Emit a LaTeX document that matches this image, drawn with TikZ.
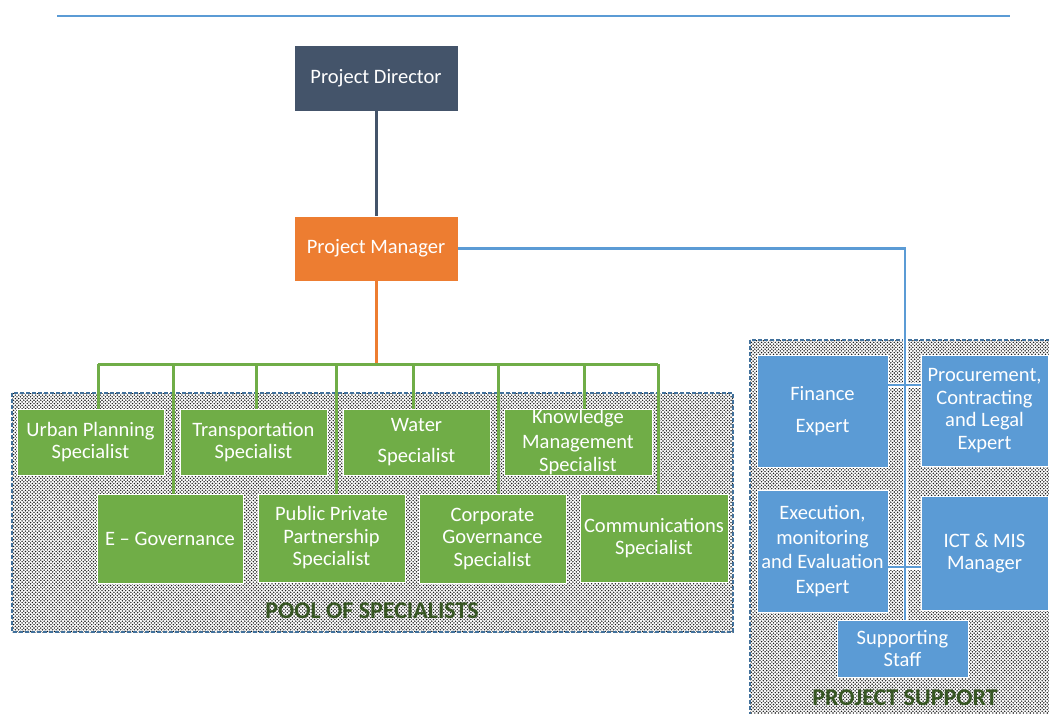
\documentclass[tikz,border=0pt]{standalone}
\usepackage{fontspec}
\setmainfont{Carlito}
\usetikzlibrary{patterns}
\definecolor{cdark}{HTML}{44546A}
\definecolor{corange}{HTML}{ED7D31}
\definecolor{cgreen}{HTML}{70AD47}
\definecolor{cblue}{HTML}{5B9BD5}
\definecolor{cframe}{HTML}{41719C}
\definecolor{ctitle}{HTML}{375623}
\pgfdeclarepatternformonly{mydots}{\pgfqpoint{-1pt}{-1pt}}{\pgfqpoint{4pt}{4pt}}{\pgfqpoint{3.4pt}{3.4pt}}{%
  \pgfpathcircle{\pgfqpoint{0pt}{0pt}}{0.8pt}%
  \pgfpathcircle{\pgfqpoint{1.7pt}{1.7pt}}{0.8pt}%
  \pgfusepath{fill}}
\tikzset{
  box/.style={rectangle, draw=white, line width=0.6pt, inner sep=0pt, text=white, align=center,
    font=\fontsize{20.5}{22.5}\selectfont},
  gbox/.style={box, fill=cgreen},
  bbox/.style={box, fill=cblue},
  frame/.style={draw=cframe, dashed, dash pattern=on 4pt off 2pt, line width=1.2pt,
    pattern=mydots, pattern color=black!90},
  gline/.style={draw=cgreen, line width=3pt},
  bline/.style={draw=cblue, line width=2.6pt, preaction={draw=white, line width=5pt}},
  title/.style={text=ctitle, font=\fontsize{24}{26}\selectfont\bfseries},
}
\begin{document}
\begin{tikzpicture}[x=1pt,y=-1pt]
\useasboundingbox (0,0) rectangle (1049,713);
\begin{scope}
\clip (0,0) rectangle (1049,713);
\draw[frame] (12,393) rectangle (733,632);
\draw[frame] (750,340) rectangle (1070,740);
\end{scope}
\draw[cblue, line width=2pt] (57,16) -- (1010,16);

\node[box, fill=cdark, minimum width=164pt, minimum height=66pt] (pd) at (376,78) {Project Director};
\node[box, fill=corange, minimum width=164pt, minimum height=65pt] (pm) at (376,248.5) {Project Manager};

\node[gbox, minimum width=147pt, minimum height=66pt] (up) at (90.5,442) {Urban Planning\\Specialist};
\node[gbox, minimum width=147pt, minimum height=66pt] (tr) at (253.5,442) {Transportation\\Specialist};
\node[gbox, minimum width=147pt, minimum height=66pt] (wa) at (416.5,442) {Water\\[8pt]Specialist};
\node[gbox, minimum width=148pt, minimum height=66pt] (km) at (578,442) {\raisebox{3pt}{Knowledge}\\Management\\Specialist};
\node[gbox, minimum width=146pt, minimum height=89pt] (eg) at (170,538.5) {E -- Governance};
\node[gbox, minimum width=147pt, minimum height=88pt] (pp) at (331.5,538) {Public Private\\Partnership\\Specialist};
\node[gbox, minimum width=147pt, minimum height=89pt] (cg) at (492.5,538.5) {Corporate\\Governance\\Specialist};
\node[gbox, minimum width=148pt, minimum height=88pt] (cm) at (654,538) {Communications\\Specialist};

\node[bbox, minimum width=131pt, minimum height=112pt] (fe) at (822.5,411) {Finance\\[9pt]Expert};
\node[bbox, minimum width=127pt, minimum height=111pt] (pc) at (984.5,410.5) {Procurement,\\Contracting\\and Legal\\Expert};
\node[bbox, minimum width=131pt, minimum height=122pt] (ex) at (822.5,551) {Execution,\\[2pt]monitoring\\[2pt]and Evaluation\\[2pt]Expert};
\node[bbox, minimum width=127pt, minimum height=114pt] (ict) at (984.5,553) {ICT \& MIS\\Manager};
\node[bbox, minimum width=131pt, minimum height=57pt] (ss) at (902.5,648.5) {Supporting\\Staff};

\node[title] (t1) at (372,611) {POOL OF SPECIALISTS};
\node[title] (t2) at (905,698) {PROJECT SUPPORT};

% connectors
\draw[cdark, line width=3pt] (pd.south) -- (pm.north);
\coordinate (bus) at (376,364);
\draw[corange, line width=3pt] (pm.south) -- (bus);
\draw[gline] ([xshift=7.5pt]up.north |- bus) -- ([xshift=4pt]cm.north |- bus);
\draw[gline] ([xshift=7.5pt]up.north) -- ([xshift=7.5pt]up.north |- bus);
\draw[gline] ([xshift=3pt]eg.north) -- ([xshift=3pt]eg.north |- bus);
\draw[gline] ([xshift=2.5pt]tr.north) -- ([xshift=2.5pt]tr.north |- bus);
\draw[gline] ([xshift=4.5pt]pp.north) -- ([xshift=4.5pt]pp.north |- bus);
\draw[gline] ([xshift=-3.5pt]wa.north) -- ([xshift=-3.5pt]wa.north |- bus);
\draw[gline] ([xshift=5.5pt]cg.north) -- ([xshift=5.5pt]cg.north |- bus);
\draw[gline] ([xshift=6pt]km.north) -- ([xshift=6pt]km.north |- bus);
\draw[gline] ([xshift=4pt]cm.north) -- ([xshift=4pt]cm.north |- bus);

\coordinate (turn) at (905,248.5);
\draw[bline] (pm.east) -- (turn) -- (turn |- ss.north);
\draw[bline] ([yshift=26pt]fe.east) -- ([yshift=26pt]fe.east -| pc.west);
\draw[bline] ([yshift=-16pt]ex.east) -- ([yshift=-16pt]ex.east -| ict.west);
\draw[cblue, line width=2.6pt] (turn) -- (turn |- ss.north);
\end{tikzpicture}
\end{document}
